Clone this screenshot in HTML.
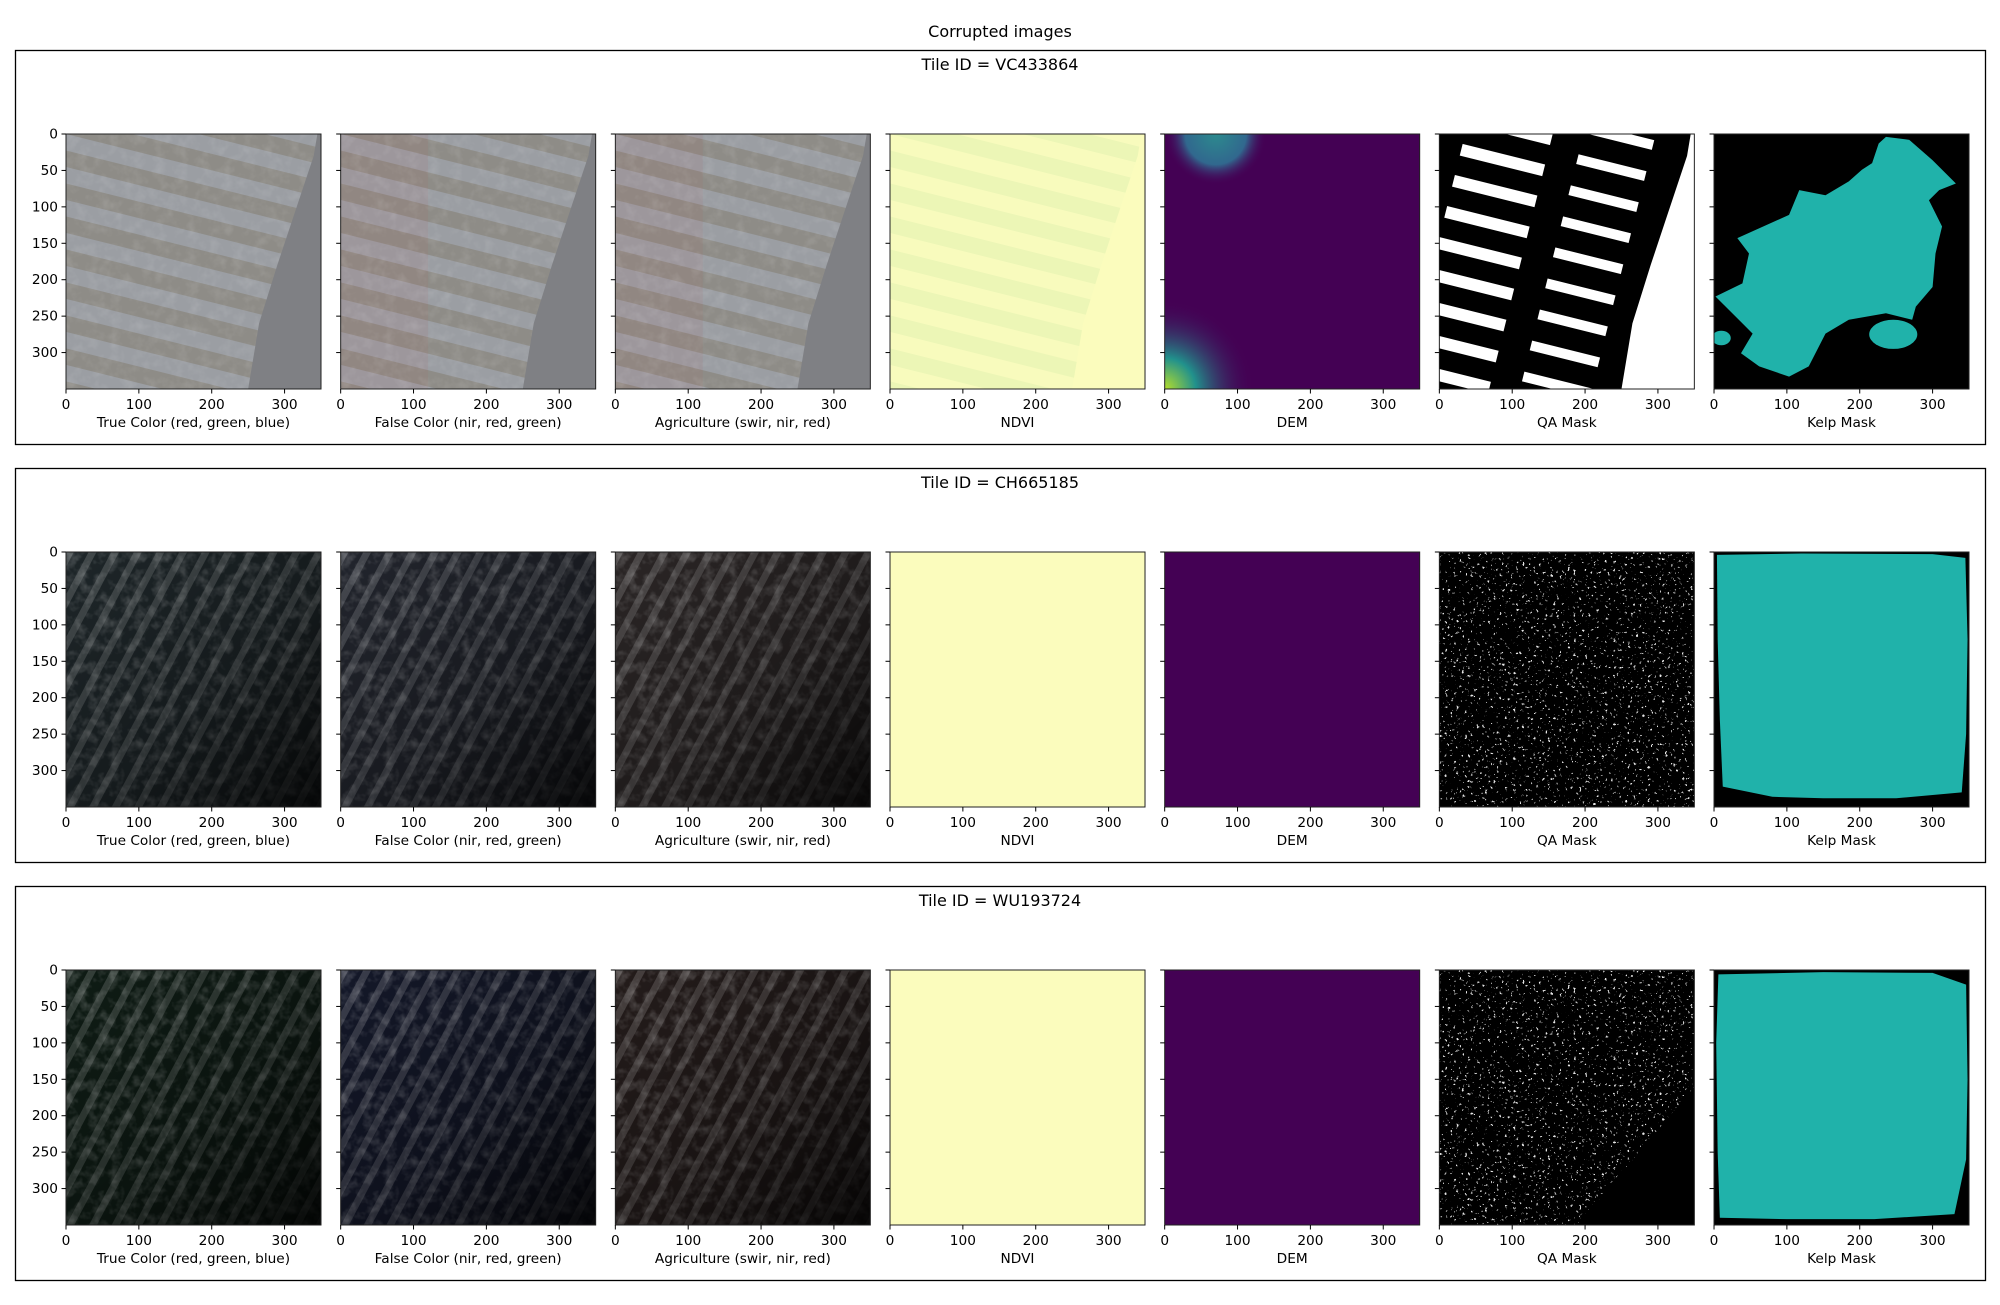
<!DOCTYPE html>
<html><head><meta charset="utf-8">
<style>
html,body{margin:0;padding:0;background:#fff;}
svg text{font-family:"DejaVu Sans","Liberation Sans",sans-serif;fill:#000;}
</style></head>
<body>
<svg id="fig" width="2000" height="1300" viewBox="0 0 2000 1300" xmlns="http://www.w3.org/2000/svg">
<defs>
  <filter id="noise" x="0" y="0" width="1" height="1">
    <feTurbulence type="fractalNoise" baseFrequency="0.09" numOctaves="3" seed="4"/>
    <feColorMatrix type="matrix" values="0 0 0 0 1  0 0 0 0 1  0 0 0 0 1  0 0 0 -2.2 1.25"/>
  </filter>
  <filter id="specks" x="0" y="0" width="1" height="1">
    <feTurbulence type="fractalNoise" baseFrequency="0.35" numOctaves="2" seed="7"/>
    <feColorMatrix type="matrix" values="0 0 0 0 1  0 0 0 0 1  0 0 0 0 1  14 0 0 0 -9.3"/>
  </filter>
  <pattern id="streaks" patternUnits="userSpaceOnUse" width="20" height="350" patternTransform="rotate(28)">
    <rect x="0" y="0" width="7" height="350" fill="#fff"/>
  </pattern>
  <pattern id="stripes1" patternUnits="userSpaceOnUse" width="400" height="32" patternTransform="rotate(14)">
    <rect x="0" y="0" width="400" height="16" fill="#9b9ea3"/>
    <rect x="0" y="16" width="400" height="16" fill="#8e8c87"/>
  </pattern>
  <pattern id="stripesN" patternUnits="userSpaceOnUse" width="400" height="32" patternTransform="rotate(14)">
    <rect x="0" y="0" width="400" height="16" fill="#f8fbbd"/>
    <rect x="0" y="16" width="400" height="16" fill="#ecf6b6"/>
  </pattern>
  <pattern id="stripesQ" patternUnits="userSpaceOnUse" width="400" height="32" patternTransform="rotate(14)">
    <rect x="0" y="0" width="400" height="32" fill="#000"/>
    <rect x="25" y="4" width="85" height="12" fill="#fff"/>
    <rect x="140" y="18" width="70" height="10" fill="#fff"/>
  </pattern>
  <radialGradient id="dem1" cx="0" cy="1" r="0.35">
    <stop offset="0" stop-color="#b5de2b"/><stop offset="0.35" stop-color="#21918c"/><stop offset="1" stop-color="#440154" stop-opacity="0"/>
  </radialGradient>
  <radialGradient id="dem2" cx="0.2" cy="0" r="0.2">
    <stop offset="0" stop-color="#2c8a8e"/><stop offset="0.6" stop-color="#31688e"/><stop offset="1" stop-color="#440154" stop-opacity="0"/>
  </radialGradient>
  <linearGradient id="shade" x1="0" y1="0" x2="1" y2="1">
    <stop offset="0" stop-color="#000" stop-opacity="0"/><stop offset="0.55" stop-color="#000" stop-opacity="0.3"/><stop offset="1" stop-color="#000" stop-opacity="0.85"/>
  </linearGradient>
</defs>
<g id="root"></g>
</svg>
<script>
const tileIds = ["VC433864", "CH665185", "WU193724"];
const panelTitles = ["True Color (red, green, blue)", "False Color (nir, red, green)", "Agriculture (swir, nir, red)", "NDVI", "DEM", "QA Mask", "Kelp Mask"];
const xTicks = [0, 100, 200, 300];
const yTicks = [0, 50, 100, 150, 200, 250, 300];
const extent = [0, 350];
const kelpShape1 = [[32,143],[103,111],[117,77],[153,84],[185,65],[203,49],[217,40],[226,13],[236,4],[268,8],[300,36],[332,68],[309,77],[295,91],[313,127],[304,164],[300,210],[277,237],[272,255],[236,246],[185,255],[153,274],[130,319],[103,333],[62,319],[37,301],[53,274],[39,260],[2,223],[39,205],[48,164]];
const kelpShape2 = [[4,4],[120,2],[300,3],[345,8],[348,120],[346,250],[340,330],[250,338],[150,338],[80,336],[12,322],[8,230],[5,120]];
const kelpShape3 = [[6,6],[150,3],[300,4],[346,20],[348,150],[346,260],[330,335],[220,342],[100,342],[8,340],[5,250],[3,100]];
const tints = [["#1e2629","#22252d","#2b2626"],["#0f1c15","#141829","#241c1b"]];

const NS = "http://www.w3.org/2000/svg";
const root = document.getElementById('root');
const SIZE = 255, LEFT0 = 66, PITCH = 274.67, TOP0 = 134, ROWP = 418;
function sx(v){ return (v - extent[0]) / (extent[1] - extent[0]) * SIZE; }
function mk(tag, attrs, parent){ const e = document.createElementNS(NS, tag); for (const k in attrs) e.setAttribute(k, attrs[k]); (parent||root).appendChild(e); return e; }
function txt(s, attrs, parent){ const e = mk('text', attrs, parent); e.textContent = s; return e; }
function pts(a){ return a.map(p => sx(p[0]) + "," + sx(p[1])).join(" "); }

const title = txt("Corrupted images", {x:1000, y:37, 'text-anchor':'middle', 'font-size':16});



tileIds.forEach((id, r) => {
  const by = 50 + r * ROWP;
  const row = mk('g', {});
  
  
  const box = mk('rect', {x:15.5, y:by+0.5, width:1970, height:394, fill:'none', stroke:'#000', 'stroke-width':1.3}, row);
  
  
  const tt = txt("Tile ID = " + id, {x:1000, y:by+20, 'text-anchor':'middle', 'font-size':16}, row);
  
  

  panelTitles.forEach((pt, c) => {
    const L = LEFT0 + c * PITCH, T = TOP0 + r * ROWP;
    const ax = mk('g', {transform:`translate(${L},${T})`}, row);
    
    
    const clipId = `clip${r}_${c}`;
    const cp = mk('clipPath', {id:clipId}, ax); mk('rect', {x:0, y:0, width:SIZE, height:SIZE}, cp);
    const img = mk('g', {'clip-path':`url(#${clipId})`}, ax);
    
    
    const full = {x:0, y:0, width:SIZE, height:SIZE};
    const wedge = [[345,0],[350,0],[350,350],[250,350],[265,260],[290,180],[310,120],[340,30]];
    if (r === 0) {
      if (c < 3) {
        mk('rect', Object.assign({fill:'url(#stripes1)'}, full), img);
        if (c > 0) mk('rect', {x:0, y:0, width:sx(120), height:SIZE, fill:'#c05050', opacity:0.08}, img);
        mk('rect', Object.assign({filter:'url(#noise)', opacity:0.1}, full), img);
        mk('polygon', {points:pts(wedge), fill:'#7f8084'}, img);
      } else if (c === 3) {
        mk('rect', Object.assign({fill:'url(#stripesN)'}, full), img);
        mk('polygon', {points:pts(wedge), fill:'#fbfcbd'}, img);
      } else if (c === 4) {
        mk('rect', Object.assign({fill:'#440154'}, full), img);
        mk('rect', Object.assign({fill:'url(#dem1)'}, full), img);
        mk('rect', Object.assign({fill:'url(#dem2)'}, full), img);
      } else if (c === 5) {
        mk('rect', Object.assign({fill:'url(#stripesQ)'}, full), img);
        mk('polygon', {points:pts(wedge), fill:'#fff'}, img);
      } else {
        mk('rect', Object.assign({fill:'#000'}, full), img);
        mk('polygon', {points:pts(kelpShape1), fill:'#20b2aa'}, img);
        mk('ellipse', {cx:sx(246), cy:sx(275), rx:sx(33), ry:sx(20), fill:'#20b2aa'}, img);
        mk('ellipse', {cx:sx(10), cy:sx(280), rx:sx(13), ry:sx(10), fill:'#20b2aa'}, img);
      }
    } else {
      if (c < 3) {
        mk('rect', Object.assign({fill:tints[r-1][c]}, full), img);
        mk('rect', Object.assign({fill:'url(#streaks)', opacity:0.16}, full), img);
        mk('rect', Object.assign({filter:'url(#noise)', opacity:0.22}, full), img);
        mk('rect', Object.assign({fill:'url(#shade)'}, full), img);
      } else if (c === 3) {
        mk('rect', Object.assign({fill:'#fbfcbd'}, full), img);
      } else if (c === 4) {
        mk('rect', Object.assign({fill:'#440154'}, full), img);
      } else if (c === 5) {
        mk('rect', Object.assign({fill:'#000'}, full), img);
        mk('rect', Object.assign({filter:'url(#specks)', opacity:0.9}, full), img);
        if (r === 2) mk('polygon', {points:pts([[190,350],[350,160],[350,350]]), fill:'#000'}, img);
      } else {
        mk('rect', Object.assign({fill:'#000'}, full), img);
        mk('polygon', {points:pts(r === 1 ? kelpShape2 : kelpShape3), fill:'#20b2aa'}, img);
      }
    }
    const fr = mk('rect', {x:0, y:0, width:SIZE, height:SIZE, fill:'none', stroke:'#222', 'stroke-width':1}, ax);
    
    
    xTicks.forEach(v => {
      mk('line', {x1:sx(v), x2:sx(v), y1:SIZE, y2:SIZE+4.5, stroke:'#000', 'stroke-width':1}, ax);
      const tl = txt(String(v), {x:sx(v), y:SIZE+20, 'text-anchor':'middle', 'font-size':13.7}, ax);
      
      
    });
    yTicks.forEach(v => {
      mk('line', {x1:-4.5, x2:0, y1:sx(v), y2:sx(v), stroke:'#000', 'stroke-width':1}, ax);
      if (c === 0) {
        const tl = txt(String(v), {x:-8, y:sx(v)+4.5, 'text-anchor':'end', 'font-size':13.7}, ax);
        
        
      }
    });
    const xl = txt(pt, {x:SIZE/2, y:SIZE+38, 'text-anchor':'middle', 'font-size':13.7}, ax);
    
    
  });
});
</script>
</body></html>
